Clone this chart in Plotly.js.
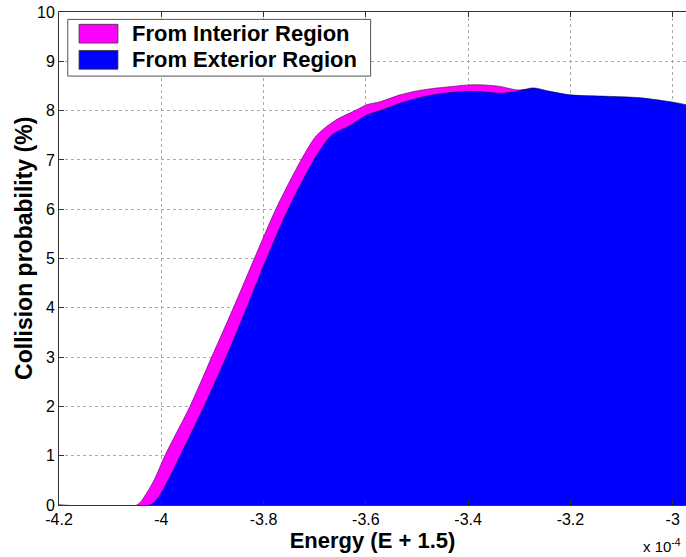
<!DOCTYPE html>
<html>
<head>
<meta charset="utf-8">
<script src="https://cdn.plot.ly/plotly-3.0.1.min.js"></script>
<style>html,body{margin:0;padding:0;background:#fff;}#chart{width:686px;height:557px;}</style>
</head>
<body>
<div id="chart"></div>
<script>
// Energy values in units of 1e-4 (E + 1.5)
const interiorX = [-4.2, -4.048, -4.03, -4.012, -3.993, -3.944, -3.9015, -3.859, -3.818, -3.776, -3.7265, -3.696, -3.66, -3.621, -3.598, -3.572, -3.533, -3.500, -3.468, -3.44, -3.400, -3.3705, -3.338, -3.305, -3.273, -3.240, -3.201, -3.129, -3.064, -2.999, -2.974];
const interiorY = [0, 0, 0.22, 0.55, 1.0, 2.0, 3.0, 4.0, 5.0, 6.0, 7.0, 7.5, 7.8, 8.0, 8.12, 8.18, 8.32, 8.40, 8.45, 8.48, 8.52, 8.52, 8.49, 8.42, 8.43, 8.36, 8.29, 8.26, 8.23, 8.14, 8.09];

const exteriorX = [-4.2, -4.022, -4.01, -3.997, -3.963, -3.9165, -3.873, -3.833, -3.794, -3.752, -3.7015, -3.667, -3.631, -3.598, -3.572, -3.533, -3.500, -3.468, -3.44, -3.400, -3.37, -3.338, -3.305, -3.273, -3.240, -3.201, -3.129, -3.064, -2.999, -2.974];
const exteriorY = [0, 0, 0.1, 0.3, 1.0, 2.0, 3.0, 4.0, 5.0, 6.0, 7.0, 7.5, 7.7, 7.91, 8.0, 8.15, 8.25, 8.32, 8.36, 8.39, 8.38, 8.35, 8.39, 8.46, 8.39, 8.32, 8.29, 8.26, 8.17, 8.12];

const xTicks = [-4.2, -4, -3.8, -3.6, -3.4, -3.2, -3];
const xTickText = ['-4.2', '-4', '-3.8', '-3.6', '-3.4', '-3.2', '-3'];
const yTicks = [0, 1, 2, 3, 4, 5, 6, 7, 8, 9, 10];

const seriesNames = ['From Interior Region', 'From Exterior Region'];
const seriesColors = ['#ff00ff', '#0000ff'];

const traces = [
  {x: interiorX, y: interiorY, type: 'scatter', mode: 'lines', fill: 'tozeroy',
   fillcolor: seriesColors[0], line: {color: '#400040', width: 0.6, shape: 'spline', smoothing: 0.8}, name: seriesNames[0], hoverinfo: 'skip'},
  {x: exteriorX, y: exteriorY, type: 'scatter', mode: 'lines', fill: 'tozeroy',
   fillcolor: seriesColors[1], line: {color: '#000040', width: 0.6, shape: 'spline', smoothing: 0.8}, name: seriesNames[1], hoverinfo: 'skip'}
];

const fontFam = 'Liberation Sans, Arial, sans-serif';

const layout = {
  width: 686, height: 557,
  margin: {l: 59, r: 0, t: 12, b: 52},
  paper_bgcolor: '#ffffff', plot_bgcolor: '#ffffff',
  showlegend: false,
  font: {family: fontFam, size: 16, color: '#000'},
  xaxis: {
    range: [-4.2, -2.974], tickvals: xTicks, ticktext: xTickText,
    ticks: 'inside', ticklen: 5, tickcolor: '#333',
    showgrid: true, gridcolor: '#aaaaaa', griddash: 'dot', gridwidth: 1,
    showline: true, linecolor: '#333', linewidth: 1, mirror: 'ticks',
    zeroline: false, tickfont: {size: 16, family: fontFam},
    title: {text: '<b>Energy (E + 1.5)</b>', font: {size: 22, family: fontFam}, standoff: 4}
  },
  yaxis: {
    range: [0, 10], tickvals: yTicks,
    ticks: 'inside', ticklen: 5, tickcolor: '#333',
    showgrid: true, gridcolor: '#aaaaaa', griddash: 'dot', gridwidth: 1,
    showline: true, linecolor: '#333', linewidth: 1,
    zeroline: false, tickfont: {size: 16, family: fontFam}
  },
  shapes: [
    {type: 'rect', xref: 'paper', yref: 'paper', x0: 0.014, x1: 0.497, y0: 0.870, y1: 0.985,
     fillcolor: '#ffffff', line: {color: '#555', width: 1}, layer: 'above'},
    {type: 'rect', xref: 'paper', yref: 'paper', x0: 0.032, x1: 0.094, y0: 0.937, y1: 0.975,
     fillcolor: seriesColors[0], line: {color: '#333', width: 0.8}, layer: 'above'},
    {type: 'rect', xref: 'paper', yref: 'paper', x0: 0.032, x1: 0.094, y0: 0.884, y1: 0.922,
     fillcolor: seriesColors[1], line: {color: '#333', width: 0.8}, layer: 'above'}
  ],
  annotations: [
    {xref: 'paper', yref: 'paper', x: 0.113, y: 0.956, xanchor: 'left', yanchor: 'middle',
     text: '<b>' + seriesNames[0] + '</b>', showarrow: false, font: {size: 22, family: fontFam}},
    {xref: 'paper', yref: 'paper', x: 0.113, y: 0.903, xanchor: 'left', yanchor: 'middle',
     text: '<b>' + seriesNames[1] + '</b>', showarrow: false, font: {size: 22, family: fontFam}},
    {xref: 'paper', yref: 'paper', x: -0.057, y: 0.52, xanchor: 'center', yanchor: 'middle', textangle: -90,
     text: '<b>Collision probability (%)</b>', showarrow: false, font: {size: 23, family: fontFam}},
    {xref: 'paper', yref: 'paper', x: 0.995, y: -0.058, xanchor: 'right', yanchor: 'top',
     text: 'x 10<sup>-4</sup>', showarrow: false, font: {size: 15, family: fontFam}}
  ]
};

Plotly.newPlot('chart', traces, layout, {staticPlot: true, displayModeBar: false});
</script>
</body>
</html>
